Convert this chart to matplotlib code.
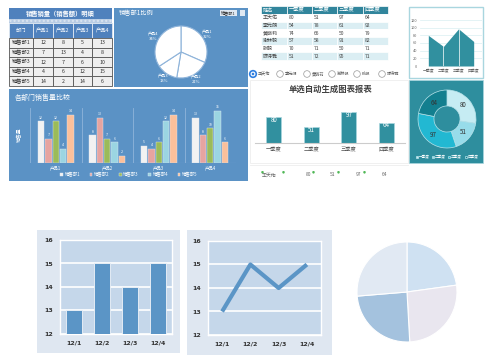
import matplotlib
matplotlib.use("Agg")
import matplotlib.pyplot as plt
from matplotlib.patches import Rectangle, Circle
import numpy as np

plt.rcParams['font.family'] = ['Noto Sans CJK SC', 'DejaVu Sans']

W, H = 494, 364

# 销售部门数据
depts = ['销售部1', '销售部2', '销售部3', '销售部4', '销售部5']
products = ['产品1', '产品2', '产品3', '产品4']
sales = [[12, 8, 5, 13],
         [7, 13, 4, 8],
         [12, 7, 6, 10],
         [4, 6, 12, 15],
         [14, 2, 14, 6]]

# 季度成绩
names = ['王天佑', '李元朗', '黄晓莉', '谢林毅', '张毅', '陈诗雅']
quarters = ['一季度', '二季度', '三季度', '四季度']
scores = [[80, 51, 97, 64],
          [54, 78, 61, 92],
          [74, 66, 50, 79],
          [57, 58, 91, 82],
          [70, 71, 50, 71],
          [51, 72, 95, 71]]

# 下方小图
days = ['12/1', '12/2', '12/3', '12/4']
day_vals = [13, 15, 14, 15]

blue = '#5b92c5'
teal = '#31909f'
bar_colors = ['#f2f2f2', '#e6a4a0', '#9bbb59', '#9bd5e2', '#fbc09b']

fig = plt.figure(figsize=(4.94, 3.64), dpi=100)
fig.set_facecolor('white')
base = fig.add_axes([0, 0, 1, 1])
base.set_xlim(0, W)
base.set_ylim(H, 0)
base.axis('off')


def rect(x0, y0, x1, y1, **kw):
    base.add_patch(Rectangle((x0, y0), x1 - x0, y1 - y0, **kw))


def sub(x0, y0, x1, y1):
    ax = fig.add_axes([x0 / W, 1 - y1 / H, (x1 - x0) / W, (y1 - y0) / H])
    ax.patch.set_alpha(0)
    return ax


# ---------- 表格：销售销量明细 ----------
rect(9, 8, 112, 19, fc='#4f81bd', ec='none')
base.text(60, 13.5, '销售销量（销售额）明细', color='white', fontsize=4.5,
          ha='center', va='center', fontweight='bold')
rect(9, 19, 112, 23, fc='#b8cce4', ec='#dbe5f1', hatch='....', lw=0)
cols = [9, 33, 53, 73, 92, 112]
for j, h in enumerate(['部门'] + products):
    rect(cols[j], 23, cols[j + 1], 38, fc='#4f81bd', ec='#dfe8f2', lw=0.6)
    base.text((cols[j] + cols[j + 1]) / 2, 30.5, h, color='white', fontsize=3.8,
              ha='center', va='center')
rh = (86 - 38) / len(depts)
for i, d in enumerate(depts):
    y0 = 38 + i * rh
    row = [d] + [str(v) for v in sales[i]]
    for j, t in enumerate(row):
        rect(cols[j], y0, cols[j + 1], y0 + rh, fc='#efefef', ec='#555555', lw=0.6)
        base.text((cols[j] + cols[j + 1]) / 2, y0 + rh / 2, t, color='#333333',
                  fontsize=3.8, ha='center', va='center')

# ---------- 饼图：销售部1比例 ----------
rect(114, 8, 248, 87, fc=blue, ec='none')
base.text(119, 13, '销售部1比例', color='white', fontsize=4.5, va='center')
rect(220, 10, 237, 15.5, fc='#dfe8f2', ec='none')
base.text(228.5, 12.8, '销售部1', color='#333333', fontsize=3, ha='center', va='center')
rect(240, 10, 245, 15.5, fc='#dfe8f2', ec='none')
axp = sub(155, 26, 207, 78)
tot = sum(sales[0])
pie_labels = [f'{p}\n{v / tot:.0%}' for p, v in zip(products, sales[0])]
axp.pie(sales[0], colors=['white'] * 4, startangle=90, counterclock=False,
        labels=pie_labels, labeldistance=1.22,
        wedgeprops=dict(edgecolor='#8fb4da', linewidth=0.8),
        textprops=dict(color='white', fontsize=3, ha='center', va='center'))
axp.set_xlim(-1, 1)
axp.set_ylim(-1, 1)
axp.set_aspect('equal')

# ---------- 分组柱状图：各部门销售量比较 ----------
rect(9, 89, 248, 181, fc=blue, ec='none')
base.text(15, 98, '各部门销售量比较', color='white', fontsize=5, va='center')
base.text(20, 135, '销售量', color='white', fontsize=3.5, rotation=90,
          ha='center', va='center')
axb = sub(30, 108, 236, 163)
x = np.arange(len(products))
for i, d in enumerate(depts):
    xs = x + (i - 2) * 0.142
    axb.bar(xs, sales[i], width=0.125, color=bar_colors[i], label=d,
            edgecolor='#dfe8f2', linewidth=0.3)
    for xx, v in zip(xs, sales[i]):
        axb.text(xx, v + 0.5, str(v), color='white', fontsize=2.5,
                 ha='center', va='bottom')
axb.set_xlim(-0.5, 3.5)
axb.set_ylim(0, 15.9)
for s in axb.spines.values():
    s.set_visible(False)
for xv in [-0.5, 0.5, 1.5, 2.5, 3.5]:
    axb.axvline(xv, color='#8fb4da', lw=0.6)
axb.axhline(0, color='#8fb4da', lw=0.8)
axb.set_yticks([])
axb.set_xticks(x)
axb.set_xticklabels(products, color='white', fontsize=3.2)
axb.tick_params(axis='x', length=0, pad=1.5)
axb.legend(loc='center', bbox_to_anchor=(0.48, -0.21), ncol=5, frameon=False,
           fontsize=3.2, labelcolor='white', handlelength=0.6, handleheight=0.6,
           columnspacing=2.1, handletextpad=0.4)

# ---------- 表格：季度成绩 ----------
qcols = [261, 287, 312, 337, 363, 388]
for j, h in enumerate(['姓名'] + quarters):
    rect(qcols[j], 6, qcols[j + 1], 14, fc='#31859c', ec='white', lw=0.5)
    base.text(qcols[j] + 2, 10, h, color='white', fontsize=3.8, va='center')
qh = (60 - 14) / len(names)
for i, n in enumerate(names):
    y0 = 14 + i * qh
    fc = 'white' if i % 2 == 0 else '#dbeef3'
    row = [n] + [str(v) for v in scores[i]]
    for j, t in enumerate(row):
        rect(qcols[j], y0, qcols[j + 1], y0 + qh, fc=fc, ec='white', lw=0.5)
        base.text(qcols[j] + 2, y0 + qh / 2, t, color='#444444', fontsize=3.6,
                  va='center')

# 单选按钮
rx = [253, 280, 307, 332, 357, 382]
for k, n in enumerate(names):
    if k == 0:
        base.add_patch(Circle((rx[k], 74), 3.3, fc='white', ec='#2f7fe0', lw=1.2))
        base.add_patch(Circle((rx[k], 74), 1.3, fc='#2f7fe0', ec='none'))
    else:
        base.add_patch(Circle((rx[k], 74), 3.3, fc='white', ec='#999999', lw=0.5))
    base.text(rx[k] + 5, 74, n, color='#555555', fontsize=3, va='center')

# ---------- 柱状图：单选自动生成图表报表 ----------
rect(250, 80, 408, 163, fc='white', ec='#eeeeee', lw=0.6)
base.text(330, 89, '单选自动生成图表报表', color='#404040', fontsize=6,
          ha='center', va='center', fontweight='bold')
axe = sub(255, 105, 405, 143)
xq = np.arange(len(quarters))
axe.bar(xq, scores[0], width=0.4, color=teal, edgecolor='#a9d6df', linewidth=0.5)
for xx, v in zip(xq, scores[0]):
    axe.text(xx, v - 9, str(v), color='white', fontsize=4.5, ha='center', va='center')
axe.set_xlim(-0.5, 3.5)
axe.set_ylim(0, 119)
for s in ['top', 'right', 'left']:
    axe.spines[s].set_visible(False)
axe.spines['bottom'].set_color('#cccccc')
axe.set_yticks([])
axe.set_xticks(xq)
axe.set_xticklabels(quarters, color='#555555', fontsize=3.8)
axe.tick_params(axis='x', length=0, pad=3)

# 下方数据行
base.plot([250, 408], [165, 165], color='#eeeeee', lw=0.6)
row_x = [269, 308, 333, 358, 384]
for xx, t in zip(row_x, [names[0]] + [str(v) for v in scores[0]]):
    base.text(xx, 175, t, color='#666666', fontsize=3.5, ha='center', va='center')
for xx in [262, 283, 313, 338, 364]:
    base.plot(xx, 172, marker='v', color='#3cb043', markersize=1.0)

# ---------- 面积图 ----------
rect(409, 7, 483, 78, fc='white', ec='#a9d6df', lw=1)
axa = sub(420, 20, 482, 66)
axa.fill_between(xq, scores[0], color=teal, lw=0)
for xx, v in zip(xq[1:-1], scores[0][1:-1]):
    axa.plot([xx, xx], [0, v], color='white', lw=0.5)
axa.set_xlim(-0.55, 3.55)
axa.set_ylim(0, 120)
axa.set_yticks(range(0, 121, 20))
axa.yaxis.grid(True, color='#d9eef2', lw=0.5)
axa.set_axisbelow(True)
for s in axa.spines.values():
    s.set_visible(False)
axa.set_xticks(xq)
axa.set_xticklabels(quarters, fontsize=2.8, color='#666666')
axa.tick_params(axis='y', labelsize=2.8, labelcolor='#666666', length=0, pad=2)
axa.tick_params(axis='x', length=0, pad=2)

# ---------- 环形图 ----------
rect(409, 80, 483, 163, fc='#2e8e9e', ec='#a9d6df', lw=0.5)
axd = sub(418, 90, 476, 148)
donut_colors = ['#c6ecf3', '#97dcea', '#22b8d2', '#137f8f']
wedges, _ = axd.pie(scores[0], colors=donut_colors, startangle=90, counterclock=False,
                    wedgeprops=dict(width=0.55, edgecolor='#b8e3ea', linewidth=0.5))
ang0 = 90
for v in scores[0]:
    span = v / sum(scores[0]) * 360
    mid = np.deg2rad(ang0 - span / 2)
    axd.text(0.72 * np.cos(mid), 0.72 * np.sin(mid), str(v), color='#333333',
             fontsize=4.5, ha='center', va='center')
    ang0 -= span
axd.set_xlim(-1, 1)
axd.set_ylim(-1, 1)
axd.set_aspect('equal')
axd.legend(wedges, quarters, loc='center', bbox_to_anchor=(0.5, -0.16), ncol=4,
           frameon=False, fontsize=2.6, labelcolor='white', handlelength=0.5,
           handleheight=0.5, columnspacing=0.8, handletextpad=0.2)

# ---------- 下方：柱状图 ----------
rect(37, 230, 180, 353, fc='#dfe7f1', ec='none')
ax1 = sub(60, 240, 172, 334)
ax1.patch.set_alpha(1)
ax1.set_facecolor('#c5d7ea')
xd = np.arange(len(days))
ax1.bar(xd, day_vals, width=0.6, color='#5b95c6', edgecolor='#f0f4f9',
        linewidth=0.6, zorder=3)
ax1.set_xlim(-0.5, 3.5)
ax1.set_ylim(12, 16)
ax1.set_yticks([12, 13, 14, 15, 16])
ax1.yaxis.grid(True, color='white', lw=1.2)
ax1.set_axisbelow(True)

# ---------- 下方：折线图 ----------
rect(187, 230, 332, 355, fc='#dfe7f1', ec='none')
ax2 = sub(208, 241, 321, 335)
ax2.patch.set_alpha(1)
ax2.set_facecolor('#c5d7ea')
ax2.plot(xd, day_vals, color='#5b95c6', lw=3, solid_capstyle='butt', zorder=3)
ax2.set_xlim(-0.5, 3.5)
ax2.set_ylim(12, 16)
ax2.set_yticks([12, 13, 14, 15, 16])
ax2.yaxis.grid(True, color='white', lw=1.2)

for ax in (ax1, ax2):
    for s in ax.spines.values():
        s.set_color('white')
        s.set_linewidth(1)
    ax.set_xticks(xd)
    ax.set_xticklabels(days)
    ax.tick_params(length=0, labelsize=4.5, labelcolor='#333333', pad=5)
    for lab in ax.get_xticklabels() + ax.get_yticklabels():
        lab.set_fontweight('bold')
        lab.set_family('DejaVu Sans')

# ---------- 下方：饼图 ----------
ax3 = sub(357, 242, 457, 342)
ax3.pie(day_vals, colors=['#cfe1f2', '#e9e6ef', '#a4c2de', '#e1e9f3'],
        startangle=90, counterclock=False,
        wedgeprops=dict(edgecolor='white', linewidth=0.8))
ax3.set_xlim(-1, 1)
ax3.set_ylim(-1, 1)
ax3.set_aspect('equal')

fig.savefig('out.png', dpi=100, facecolor='white')
